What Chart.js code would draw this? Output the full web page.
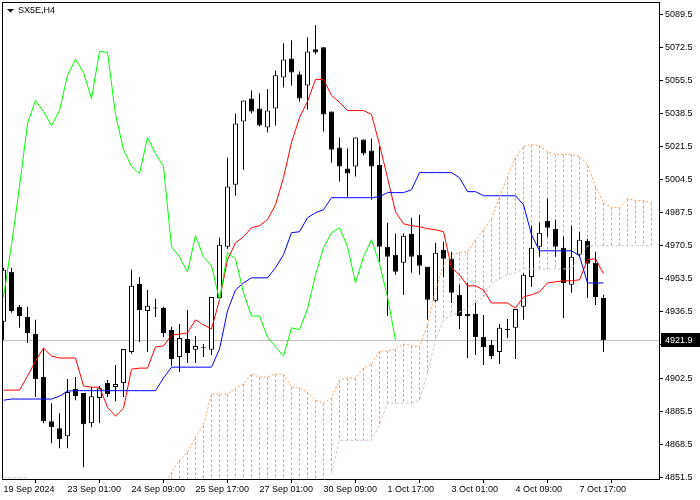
<!DOCTYPE html>
<html>
<head>
<meta charset="utf-8">
<script src="https://cdn.jsdelivr.net/npm/chart.js@4.4.1/dist/chart.umd.min.js"></script>
<style>
html, body { margin: 0; padding: 0; background: #fff; }
#wrap { width: 700px; height: 500px; }
</style>
</head>
<body>
<div id="wrap"><canvas id="chart" width="700" height="500"></canvas></div>
<script>
// SX5E H4 candles, 19 Sep - 7 Oct 2024
const opens = [
  4931.4, 4957.1, 4939.1, 4933.9, 4925.2, 4903.0, 4880.3, 4876.7, 4872.6, 4896.8,
  4894.8, 4879.3, 4892.2, 4900.0, 4897.9, 4899.9, 4915.9, 4950.9, 4937.0, 4938.5,
  4938.5, 4927.2, 4913.3, 4922.6, 4917.0, 4918.0, 4917.0, 4943.7, 4970.0, 5001.9,
  5034.4, 5046.2, 5041.1, 5031.3, 5041.1, 5057.0, 5066.8, 5058.6, 5052.9, 5071.5,
  5072.5, 5039.5, 5021.0, 5010.2, 5011.2, 5025.1, 5019.4, 5012.2, 4970.0, 4965.9,
  4961.7, 4976.7, 4965.9, 4959.7, 4942.2, 4968.4, 4963.8, 4945.3, 4935.5, 4935.5,
  4923.6, 4919.5, 4915.9, 4927.2, 4928.3, 4939.1, 4954.5, 4970.0, 4983.4, 4979.3,
  4969.5, 4950.4, 4965.9, 4973.1, 4961.7, 4943.7
]
const highs = [
  4959.2, 4959.2, 4940.1, 4939.1, 4932.4, 4918.0, 4889.6, 4884.4, 4902.0, 4903.0,
  4894.8, 4897.9, 4898.4, 4901.5, 4909.2, 4917.4, 4958.2, 4954.5, 4947.8, 4943.2,
  4939.1, 4928.8, 4930.3, 4937.5, 4924.1, 4920.0, 4944.2, 4974.6, 5015.8, 5038.5,
  5045.2, 5050.3, 5048.8, 5050.9, 5060.6, 5074.6, 5076.1, 5060.1, 5077.6, 5083.8,
  5072.5, 5039.5, 5026.1, 5020.5, 5026.1, 5025.1, 5025.6, 5021.5, 4982.3, 4976.8,
  4976.8, 4984.9, 4986.5, 4959.7, 4972.0, 4972.5, 4967.4, 4950.4, 4951.5, 4941.1,
  4934.9, 4922.1, 4930.3, 4932.9, 4938.0, 4956.6, 4980.8, 4982.3, 4994.7, 4983.9,
  4975.1, 4980.8, 4977.7, 4974.1, 4967.4, 4945.3
]
const lows = [
  4922.1, 4936.0, 4928.3, 4920.5, 4892.7, 4879.3, 4869.0, 4866.4, 4866.4, 4891.1,
  4856.6, 4877.2, 4879.3, 4892.7, 4890.6, 4892.7, 4915.0, 4921.0, 4915.9, 4933.9,
  4923.6, 4908.7, 4905.6, 4910.2, 4910.2, 4913.3, 4914.4, 4942.7, 4969.0, 4996.2,
  5009.6, 5038.5, 5031.8, 5028.7, 5032.3, 5051.9, 5052.9, 5044.7, 5040.6, 5068.9,
  5029.2, 5013.3, 5003.5, 4995.7, 5006.1, 5016.9, 4994.2, 4962.3, 4934.4, 4955.6,
  4945.3, 4956.6, 4955.6, 4932.4, 4941.6, 4954.5, 4941.1, 4927.7, 4912.8, 4914.4,
  4909.2, 4912.3, 4909.7, 4923.1, 4912.3, 4932.4, 4949.4, 4964.8, 4975.1, 4964.8,
  4933.4, 4946.3, 4964.3, 4943.7, 4940.1, 4915.9
]
const closes = [
  4958.2, 4937.0, 4934.4, 4925.7, 4901.9, 4880.3, 4877.2, 4871.1, 4895.3, 4893.2,
  4878.8, 4893.2, 4897.3, 4894.3, 4899.4, 4917.4, 4949.9, 4937.5, 4939.6, 4938.3,
  4925.7, 4912.3, 4923.1, 4915.4, 4919.0, 4917.8, 4944.2, 4971.0, 5000.9, 5033.3,
  5045.2, 5039.5, 5032.3, 5040.0, 5058.1, 5066.3, 5059.6, 5046.2, 5070.4, 5069.9,
  5038.0, 5019.9, 5011.2, 5007.6, 5026.1, 5017.9, 5011.2, 4970.0, 4964.8, 4957.1,
  4975.7, 4964.8, 4960.2, 4942.7, 4966.9, 4963.8, 4946.3, 4934.4, 4934.4, 4923.6,
  4918.5, 4913.8, 4928.3, 4927.4, 4938.0, 4955.6, 4969.5, 4977.2, 4979.8, 4970.0,
  4951.4, 4964.8, 4973.6, 4961.2, 4944.2, 4921.9
]

// ichimoku lines
const tenkan = [
  4896.3, 4896.3, 4896.3, 4903.5, 4911.2, 4917.9, 4913.8, 4912.8, 4912.8, 4912.8,
  4898.4, 4897.8, 4897.8, 4887.5, 4882.9, 4887.0, 4907.1, 4907.6, 4907.6, 4918.5,
  4919.0, 4924.6, 4925.1, 4925.7, 4932.4, 4929.8, 4927.7, 4942.7, 4963.3, 4972.0,
  4975.1, 4979.8, 4980.8, 4983.9, 4991.6, 5005.5, 5023.6, 5036.4, 5044.7, 5056.0,
  5056.0, 5047.8, 5044.2, 5040.0, 5040.0, 5040.0, 5038.0, 5022.5, 5005.5, 4988.0,
  4981.8, 4980.8, 4980.3, 4979.3, 4978.7, 4977.7, 4959.2, 4955.6, 4949.9, 4949.9,
  4947.8, 4941.1, 4941.1, 4941.1, 4938.5, 4944.2, 4945.3, 4946.8, 4951.4, 4952.0,
  4952.5, 4952.5, 4953.0, 4963.3, 4963.8, 4956.1
]
const kijun = [
  4891.1, 4891.7, 4891.7, 4891.7, 4891.7, 4891.7, 4891.7, 4893.2, 4895.8, 4896.0,
  4896.0, 4896.0, 4896.0, 4896.0, 4896.0, 4896.0, 4896.0, 4896.0, 4896.0, 4896.0,
  4902.5, 4908.1, 4908.1, 4908.1, 4908.1, 4908.1, 4908.1, 4917.4, 4937.0, 4947.8,
  4951.4, 4954.0, 4954.0, 4954.0, 4959.2, 4965.9, 4977.2, 4977.7, 4984.9, 4987.5,
  4989.0, 4995.2, 4995.2, 4995.2, 4995.2, 4995.2, 4995.2, 4995.7, 4997.8, 4997.8,
  4997.8, 4999.3, 5008.1, 5008.1, 5008.1, 5008.1, 5008.1, 5005.5, 4998.3, 4998.3,
  4996.2, 4996.2, 4996.2, 4996.2, 4996.2, 4991.6, 4976.2, 4967.9, 4967.9, 4967.9,
  4967.9, 4967.9, 4965.3, 4951.4, 4951.4, 4951.4
]
// senkou spans run 82 slots (26 bars ahead of the last candle, visible part)
const spanA = [
  null, null, null, null, null, null, null, null, null, null,
  null, null, null, null, null, null, null, null, null, null,
  4845.8, 4854.1, 4860.2, 4864.4, 4872.1, 4878.3, 4894.2, 4894.2, 4894.2, 4897.3,
  4899.4, 4904.5, 4903.0, 4903.0, 4904.5, 4904.5, 4897.8, 4897.3, 4895.3, 4891.1,
  4889.6, 4892.2, 4901.5, 4902.5, 4902.5, 4907.6, 4909.7, 4916.4, 4916.4, 4917.4,
  4920.0, 4919.0, 4918.5, 4929.8, 4947.8, 4960.7, 4965.9, 4966.9, 4967.4, 4973.6,
  4978.7, 4984.4, 4995.7, 5006.0, 5015.8, 5021.5, 5022.5, 5022.0, 5018.9, 5017.4,
  5017.4, 5017.4, 5016.3, 5012.2, 5000.9, 4992.6, 4990.1, 4990.1, 4994.7, 4993.7,
  4993.7, 4992.6
]
const spanB = [
  4851.3, 4851.3, 4851.3, 4851.3, null, null, null, null, null, null,
  null, null, null, null, null, null, null, null, null, null,
  null, null, null, null, null, null, null, null, null, null,
  null, null, null, null, null, null, null, null, null, null,
  null, 4853.5, 4870.5, 4870.5, 4870.5, 4870.5, 4870.5, 4878.3, 4889.6, 4889.6,
  4889.6, 4889.6, 4891.1, 4905.1, 4922.1, 4932.4, 4934.9, 4936.5, 4938.5, 4941.1,
  4944.2, 4951.4, 4953.5, 4955.6, 4956.6, 4958.6, 4958.6, 4958.6, 4958.6, 4958.6,
  4958.6, 4958.6, 4964.3, 4970.5, 4970.5, 4970.5, 4970.5, 4970.5, 4970.5, 4970.5,
  4970.5, 4970.5
]
// chikou span = close drawn 26 bars back
const chikou = closes.slice(26)

const xTickIdx = [0, 8, 16, 24, 32, 40, 48, 56, 64, 72]
const xTickLabels = ['19 Sep 2024', '23 Sep 01:00', '24 Sep 09:00', '25 Sep 17:00', '27 Sep 01:00',
  '30 Sep 09:00', '1 Oct 17:00', '3 Oct 01:00', '4 Oct 09:00', '7 Oct 17:00']
const yTicks = [4851.5, 4868.5, 4885.5, 4902.5, 4919.5, 4936.5, 4953.5, 4970.5,
  4987.5, 5004.5, 5021.5, 5038.5, 5055.5, 5072.5, 5089.5]
const lastPrice = 4921.9
const symbol = 'SX5E,H4'

const FONT = { family: 'Liberation Sans', size: 9 }

function toPoints(arr) {
  return arr.map((v, i) => ({ x: i, y: v }))
}

const wicks = highs.map((h, i) => ({ x: i, y: [lows[i], h] }))
const bodies = opens.map((o, i) => ({ x: i, y: [o, closes[i]] }))
const bodyColors = opens.map((o, i) => closes[i] >= o ? '#ffffff' : '#000000')

const ichimokuExtras = {
  id: 'ichimokuExtras',
  beforeDatasetsDraw(chart) {
    const { ctx, chartArea, scales: { x, y } } = chart
    ctx.save()
    ctx.beginPath()
    ctx.rect(chartArea.left, chartArea.top, chartArea.width, chartArea.height)
    ctx.clip()
    // kumo hatching
    ctx.lineWidth = 1
    ctx.setLineDash([3, 2])
    spanA.forEach((a, i) => {
      if (a == null) return
      const b = spanB[i]
      const px = Math.floor(x.getPixelForValue(i)) + 0.5
      const ya = y.getPixelForValue(a)
      const yb = b == null ? chartArea.bottom : y.getPixelForValue(b)
      ctx.strokeStyle = (b == null || a >= b) ? '#F4A460' : '#D8BFD8'
      ctx.beginPath()
      ctx.moveTo(px, ya)
      ctx.lineTo(px, yb)
      ctx.stroke()
    })
    // last price line
    ctx.setLineDash([])
    ctx.strokeStyle = '#C0C0C0'
    const py = Math.round(y.getPixelForValue(lastPrice)) + 0.5
    ctx.beginPath()
    ctx.moveTo(chartArea.left, py)
    ctx.lineTo(chartArea.right, py)
    ctx.stroke()
    ctx.restore()
  },
  afterDraw(chart) {
    const { ctx, chartArea, scales: { y } } = chart
    ctx.save()
    // frame
    ctx.strokeStyle = '#000'
    ctx.lineWidth = 1
    ctx.strokeRect(chartArea.left + 0.5, chartArea.top + 0.5, chartArea.width, chartArea.height)
    // price tag
    const py = Math.round(y.getPixelForValue(lastPrice))
    ctx.fillStyle = '#000'
    ctx.fillRect(chartArea.right + 2, py - 7, 700 - chartArea.right - 2, 14)
    ctx.fillStyle = '#fff'
    ctx.font = FONT.size + 'px ' + FONT.family
    ctx.textBaseline = 'middle'
    ctx.textAlign = 'left'
    ctx.fillText(lastPrice.toFixed(1), chartArea.right + 6, py + 0.5)
    // symbol title
    ctx.fillStyle = '#000'
    ctx.beginPath()
    ctx.moveTo(7, 9)
    ctx.lineTo(14, 9)
    ctx.lineTo(10.5, 12.5)
    ctx.closePath()
    ctx.fill()
    ctx.fillText(symbol, 18, 11)
    ctx.restore()
  }
}

function lineSet(data, color, dash, order) {
  return {
    type: 'line',
    data: data,
    borderColor: color,
    borderWidth: 1,
    borderDash: dash || [],
    pointRadius: 0,
    tension: 0,
    spanGaps: false,
    order: order
  }
}

const chart = new Chart(document.getElementById('chart'), {
  type: 'bar',
  data: {
    datasets: [
      lineSet(toPoints(spanA), '#F4A460', [2, 2], 0),
      lineSet(toPoints(spanB), '#D8BFD8', [3, 2], 0),
      lineSet(toPoints(chikou), '#00FF00', null, 0),
      lineSet(toPoints(kijun), '#0000FF', null, 0),
      lineSet(toPoints(tenkan), '#FF0000', null, 0),
      {
        type: 'bar',
        data: bodies,
        backgroundColor: bodyColors,
        borderColor: '#000',
        borderWidth: 1,
        borderSkipped: false,
        barThickness: 5,
        minBarLength: 1,
        inflateAmount: 0,
        grouped: false,
        order: 1
      },
      {
        type: 'bar',
        data: wicks,
        backgroundColor: '#000',
        borderWidth: 0,
        barThickness: 1,
        inflateAmount: 0,
        grouped: false,
        order: 2
      }
    ]
  },
  options: {
    responsive: false,
    animation: false,
    devicePixelRatio: 1,
    layout: { padding: { left: 2, top: 2, right: 0, bottom: 0 } },
    plugins: { legend: { display: false }, tooltip: { enabled: false } },
    scales: {
      x: {
        type: 'linear',
        min: -0.1875,
        max: 81.9375,
        offset: false,
        border: { display: false },
        grid: { drawOnChartArea: false, drawTicks: true, tickLength: 4, color: '#000' },
        ticks: {
          autoSkip: false,
          maxRotation: 0,
          align: 'start',
          padding: 1,
          color: '#000',
          font: FONT,
          callback: (v) => {
            const k = xTickIdx.indexOf(v)
            return k >= 0 ? xTickLabels[k] : ''
          }
        },
        afterBuildTicks: (s) => { s.ticks = xTickIdx.map(v => ({ value: v })) },
        afterFit: (s) => { s.height = 21; s.paddingLeft = 0; s.paddingRight = 0 }
      },
      y: {
        type: 'linear',
        position: 'right',
        min: 4850.6,
        max: 5095.8,
        border: { display: false },
        grid: { drawOnChartArea: false, drawTicks: true, tickLength: 4, color: '#000' },
        ticks: {
          padding: 2,
          color: '#000',
          font: FONT,
          callback: (v) => Number(v).toFixed(1)
        },
        afterBuildTicks: (s) => { s.ticks = yTicks.map(v => ({ value: v })) },
        afterFit: (s) => { s.width = 41; s.paddingTop = 0; s.paddingBottom = 0 }
      }
    }
  },
  plugins: [ichimokuExtras]
})
</script>
</body>
</html>
